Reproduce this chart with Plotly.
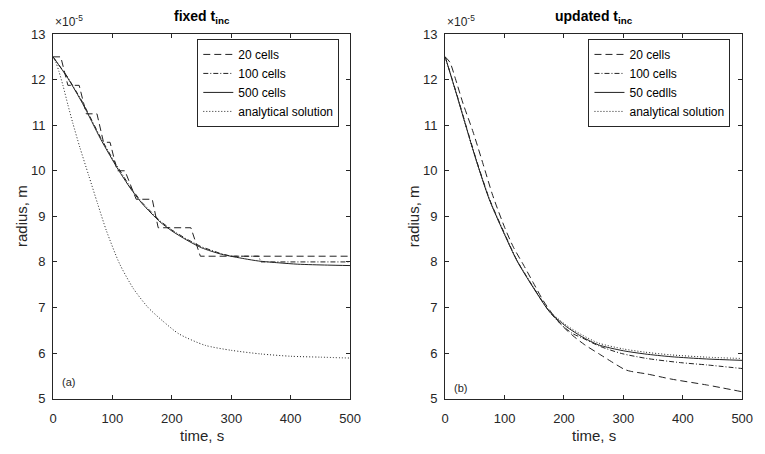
import plotly.graph_objects as go

# ---------------- data ----------------
# left panel: fixed t_inc
t_l20 = [0, 13, 25, 44, 56, 74, 85, 96, 108, 121, 140, 167, 177, 232, 248, 500]
r_l20 = [12.5, 12.5, 11.875, 11.875, 11.25, 11.25, 10.625, 10.625, 10.0, 10.0,
         9.375, 9.375, 8.75, 8.75, 8.125, 8.125]

t_l100 = [0, 25, 50, 80, 100, 110, 130, 150, 180, 200, 225, 250, 283, 300, 346, 350, 500]
r_l100 = [12.5, 12.05, 11.5, 10.73, 10.27, 10.05, 9.64, 9.3, 8.9, 8.7, 8.5, 8.33,
          8.18, 8.125, 8.125, 8.0, 8.0]

t_l500 = [0, 25, 50, 80, 100, 110, 130, 150, 180, 200, 225, 250, 283, 322, 346, 380, 412, 462, 500]
r_l500 = [12.5, 12.03, 11.47, 10.7, 10.24, 10.02, 9.62, 9.28, 8.88, 8.68, 8.48, 8.31,
          8.17, 8.07, 8.02, 7.98, 7.95, 7.93, 7.92]

t_lan = [0, 5, 10, 17, 25, 33, 45, 60, 75, 90, 112, 135, 160, 185, 212, 256, 300, 350, 400, 450, 500]
r_lan = [12.5, 12.37, 12.18, 11.86, 11.45, 11.06, 10.52, 9.9, 9.28, 8.68, 7.96, 7.42,
         7.0, 6.7, 6.42, 6.17, 6.06, 5.98, 5.93, 5.91, 5.89]

# right panel: updated t_inc
t_r20 = [0, 8, 17, 30, 47, 64, 80, 100, 115, 132, 148, 165, 185, 200, 215, 235, 258,
         280, 302, 312, 340, 380, 440, 500]
r_r20 = [12.5, 12.38, 12.03, 11.48, 10.85, 10.14, 9.46, 8.76, 8.32, 7.93, 7.55, 7.15,
         6.78, 6.56, 6.38, 6.18, 5.99, 5.81, 5.64, 5.6, 5.54, 5.43, 5.3, 5.15]

t_r100 = [0, 20, 36, 52, 74, 100, 121, 148, 176, 195, 214, 231, 260, 297, 340, 396, 440, 500]
r_r100 = [12.5, 11.66, 10.95, 10.26, 9.4, 8.62, 8.03, 7.45, 6.9, 6.63, 6.43, 6.33,
          6.15, 5.99, 5.88, 5.79, 5.74, 5.66]

t_r50 = [0, 20, 36, 52, 74, 100, 121, 148, 176, 204, 230, 258, 300, 336, 380, 440, 500]
r_r50 = [12.5, 11.64, 10.93, 10.24, 9.38, 8.6, 8.02, 7.44, 6.9, 6.58, 6.36, 6.18,
         6.05, 5.98, 5.92, 5.87, 5.84]

t_ran = [0, 20, 36, 52, 74, 100, 121, 148, 176, 204, 230, 258, 300, 336, 380, 440, 500]
r_ran = [12.5, 11.64, 10.93, 10.24, 9.38, 8.6, 8.03, 7.46, 6.92, 6.61, 6.4, 6.22,
         6.09, 6.02, 5.96, 5.91, 5.88]

x_ticks = [0, 100, 200, 300, 400, 500]
y_ticks = [5, 6, 7, 8, 9, 10, 11, 12, 13]

# ---------------- styling ----------------
W, H = 765, 454
AX = "#262626"
LC = "#222222"
FONT = "Liberation Sans, Arial, sans-serif"
DASH = "7px,4px"
DASHDOT = "5px,2px,1px,2px"
DOT = "1px,2px"

fig = go.Figure()

def add(t, r, name, dash, ax, leg, shape="linear"):
    fig.add_trace(go.Scatter(
        x=t, y=r, mode="lines", name=name,
        line=dict(color=LC, width=1, dash=dash, shape=shape,
                  smoothing=0.7 if shape == "spline" else None),
        xaxis="x" if ax == 1 else "x2", yaxis="y" if ax == 1 else "y2",
        legend=leg,
    ))

add(t_l20, r_l20, "20 cells", DASH, 1, "legend")
add(t_l100, r_l100, "100 cells", DASHDOT, 1, "legend")
add(t_l500, r_l500, "500 cells", "solid", 1, "legend", "spline")
add(t_lan, r_lan, "analytical solution", DOT, 1, "legend", "spline")

add(t_r20, r_r20, "20 cells", DASH, 2, "legend2", "spline")
add(t_r100, r_r100, "100 cells", DASHDOT, 2, "legend2", "spline")
add(t_r50, r_r50, "50 cedlls", "solid", 2, "legend2", "spline")
add(t_ran, r_ran, "analytical solution", DOT, 2, "legend2", "spline")

def px2x(p):
    return p / W

def px2y(p):
    return 1 - p / H

common_ax = dict(
    showline=True, linecolor=AX, linewidth=1, mirror="allticks",
    ticks="inside", ticklen=4, tickcolor=AX, tickwidth=1,
    showgrid=False, zeroline=False,
    tickfont=dict(family=FONT, size=13, color=AX),
)

ydom = [px2y(405), px2y(28)]
fig.update_layout(
    width=W, height=H,
    margin=dict(l=0, r=0, t=0, b=0),
    paper_bgcolor="white", plot_bgcolor="white",
    font=dict(family=FONT, color=AX),
    xaxis=dict(domain=[px2x(50), px2x(353)], range=[0, 500], tickvals=x_ticks,
               anchor="y", ticklabelstandoff=8, **common_ax),
    yaxis=dict(domain=ydom, range=[5, 13], tickvals=y_ticks, anchor="x",
               ticklabelstandoff=4, **common_ax),
    xaxis2=dict(domain=[px2x(450), px2x(753)], range=[0, 500], tickvals=x_ticks,
                anchor="y2", ticklabelstandoff=8, **common_ax),
    yaxis2=dict(domain=ydom, range=[5, 13], tickvals=y_ticks, anchor="x2",
                ticklabelstandoff=4, **common_ax),
    legend=dict(x=px2x(342), y=px2y(33), xanchor="right", yanchor="top",
                bgcolor="white", bordercolor=AX, borderwidth=1,
                font=dict(family=FONT, size=12, color="#000"), tracegroupgap=0),
    legend2=dict(x=px2x(741), y=px2y(33), xanchor="right", yanchor="top",
                 bgcolor="white", bordercolor=AX, borderwidth=1,
                 font=dict(family=FONT, size=12, color="#000"), tracegroupgap=0),
    showlegend=True,
)

ann = []
# titles
for cx, txt in [(201.5, "<b>fixed t<sub>inc</sub></b>"), (601.5, "<b>updated t<sub>inc</sub></b>")]:
    ann.append(dict(x=px2x(cx), y=px2y(22), xref="paper", yref="paper", text=txt,
                    showarrow=False, xanchor="center", yanchor="bottom",
                    font=dict(family=FONT, size=14, color="#000")))
# exponent labels
for lx in [50, 450]:
    ann.append(dict(x=px2x(lx), y=px2y(25), xref="paper", yref="paper",
                    text="×10<sup>-5</sup>", showarrow=False, xanchor="left",
                    yanchor="bottom", font=dict(family=FONT, size=12, color=AX)))
# axis titles
for cx in [201.5, 601.5]:
    ann.append(dict(x=px2x(cx), y=px2y(443), xref="paper", yref="paper", text="time, s",
                    showarrow=False, xanchor="center", yanchor="middle",
                    font=dict(family=FONT, size=15, color=AX)))
for cx in [18, 418]:
    ann.append(dict(x=px2x(cx), y=px2y(216.5), xref="paper", yref="paper", text="radius, m",
                    showarrow=False, xanchor="center", yanchor="middle", textangle=-90,
                    font=dict(family=FONT, size=15, color=AX)))
# panel labels
ann.append(dict(x=11, y=5.36, xref="x", yref="y", text="(a)", showarrow=False,
                xanchor="left", yanchor="middle", font=dict(family=FONT, size=11, color=AX)))
ann.append(dict(x=11, y=5.24, xref="x2", yref="y2", text="(b)", showarrow=False,
                xanchor="left", yanchor="middle", font=dict(family=FONT, size=11, color=AX)))
fig.update_layout(annotations=ann)

fig.write_html("out.html")
